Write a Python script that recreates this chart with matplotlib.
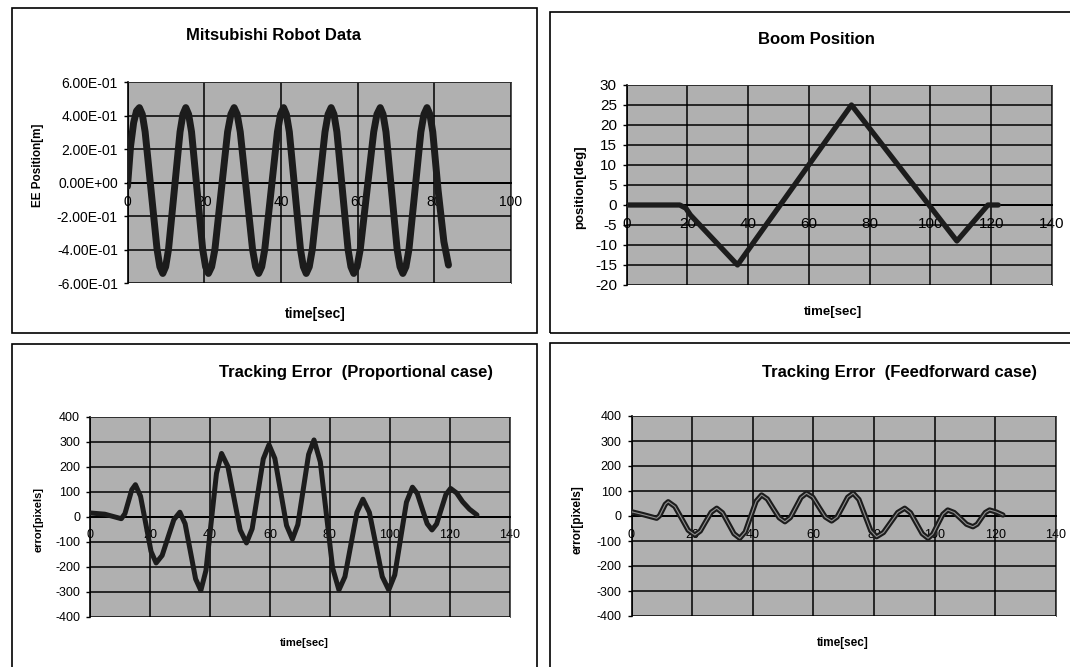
import matplotlib
matplotlib.use("Agg")
import matplotlib.pyplot as plt
from matplotlib.patches import Rectangle

# ---------------- data ----------------
# Panel 1: Mitsubishi Robot Data
robot_t = [0, 0.8, 1.6, 2.35, 3.1,
           3.86, 4.6, 6.15, 7.7, 8.44, 9.2,
           9.95, 10.7, 12.2, 13.7, 14.45, 15.2,
           15.94, 16.7, 18.15, 19.6, 20.36, 21.1,
           21.94, 22.8, 24.45, 26.1, 26.96, 27.8,
           28.6, 29.4, 31.0, 32.6, 33.4, 34.2,
           35.0, 35.8, 37.45, 39.1, 39.9, 40.7,
           41.44, 42.2, 43.65, 45.1, 45.86, 46.6,
           47.4, 48.2, 49.85, 51.5, 52.3, 53.1,
           53.84, 54.6, 56.05, 57.5, 58.26, 59.0,
           59.86, 60.7, 62.45, 64.2, 65.04, 65.9,
           66.64, 67.4, 68.85, 70.3, 71.06, 71.8,
           72.6, 73.4, 74.95, 76.5, 77.3, 78.1,
           78.85, 79.6, 81.0, 82.5, 83.7]
robot_pos = [-0.02, 0.22, 0.36, 0.43, 0.45,
             0.41, 0.305, -0.045, -0.395, -0.50, -0.54,
             -0.50, -0.395, -0.045, 0.305, 0.41, 0.45,
             0.41, 0.305, -0.045, -0.395, -0.50, -0.54,
             -0.50, -0.395, -0.045, 0.305, 0.41, 0.45,
             0.41, 0.305, -0.045, -0.395, -0.50, -0.54,
             -0.50, -0.395, -0.045, 0.305, 0.41, 0.45,
             0.41, 0.305, -0.045, -0.395, -0.50, -0.54,
             -0.50, -0.395, -0.045, 0.305, 0.41, 0.45,
             0.41, 0.305, -0.045, -0.395, -0.50, -0.54,
             -0.50, -0.395, -0.045, 0.305, 0.41, 0.45,
             0.41, 0.305, -0.045, -0.395, -0.50, -0.54,
             -0.50, -0.395, -0.045, 0.305, 0.41, 0.45,
             0.41, 0.305, -0.045, -0.35, -0.49]

# Panel 2: Boom Position
boom_t = [0, 10, 17.5, 19.5, 21, 36.5, 74, 108.7, 118.9, 122.3]
boom_pos = [0, 0, 0, -0.8, -2.5, -15, 25, -9, 0, 0]

# Panel 3: Tracking Error (Proportional case)
prop_t = [0, 5, 10.5, 11.7, 12.85, 14.0, 15.2,
          16.9, 18.65, 20.4, 22.1,
          24.1, 26.05, 28.0, 30.0,
          31.75, 33.5, 35.25, 37.0,
          38.7, 40.45, 42.2, 43.9,
          46.0, 48.05, 50.1, 52.2,
          54.1, 55.95, 57.8, 59.7,
          61.65, 63.6, 65.55, 67.5,
          69.3, 71.1, 72.9, 74.7,
          76.8, 78.85, 80.9, 83.0,
          85.0, 87.0, 89.0, 91.0,
          93.15, 95.3, 97.45, 99.6,
          101.6, 103.55, 105.5, 107.5,
          109.1, 110.75, 112.4, 114.0,
          115.55, 117.1, 118.65, 120.2,
          122.2, 124.2, 126.5, 129.0]
prop_err = [15, 10, -8, 12, 60, 108, 128,
            82, -28, -139, -185,
            -155, -83, -12, 18,
            -28, -138, -249, -295,
            -215, -21, 173, 253,
            201, 74, -53, -105,
            -48, 91, 231, 288,
            233, 99, -35, -90,
            -32, 108, 249, 307,
            219, 7, -205, -293,
            -240, -111, 17, 70,
            17, -111, -240, -293,
            -233, -87, 58, 118,
            93, 32, -28, -53,
            -29, 30, 89, 113,
            95, 60, 30, 7]

# Panel 4: Tracking Error (Feedforward case)
ff_t = [0, 4, 8.3, 9.25, 10.2, 11.15, 12.1,
        14.3, 16.5, 18.7, 20.9,
        22.7, 24.5, 26.3, 28.1,
        30.0, 31.9, 33.8, 35.7,
        37.5, 39.3, 41.1, 42.9,
        44.8, 46.75, 48.7, 50.6,
        52.4, 54.15, 55.9, 57.7,
        59.8, 61.85, 63.9, 66.0,
        67.8, 69.55, 71.3, 73.1,
        75.0, 76.95, 78.9, 80.8,
        83.1, 85.45, 87.8, 90.1,
        92.0, 93.95, 95.9, 97.8,
        99.4, 101.05, 102.7, 104.3,
        106.4, 108.45, 110.5, 112.6,
        114.0, 115.35, 116.7, 118.1,
        120.3, 122.5]
ff_err = [17, 5, -9, 1, 24, 47, 57,
          38, -9, -57, -76,
          -60, -22, 15, 31,
          13, -29, -71, -89,
          -64, -2, 59, 84,
          68, 30, -7, -23,
          -6, 34, 74, 91,
          75, 35, -4, -20,
          -4, 35, 75, 91,
          66, 4, -58, -83,
          -66, -26, 14, 31,
          13, -29, -71, -89,
          -72, -32, 7, 24,
          14, -9, -33, -43,
          -33, -9, 14, 24,
          16, 4]

# axis ticks / labels
robot_yticks = [-0.6, -0.4, -0.2, 0.0, 0.2, 0.4, 0.6]
robot_ylabels = ["-6.00E-01", "-4.00E-01", "-2.00E-01", "0.00E+00",
                 "2.00E-01", "4.00E-01", "6.00E-01"]
robot_xticks = [0, 20, 40, 60, 80, 100]
boom_yticks = [-20, -15, -10, -5, 0, 5, 10, 15, 20, 25, 30]
err_yticks = [-400, -300, -200, -100, 0, 100, 200, 300, 400]
long_xticks = [0, 20, 40, 60, 80, 100, 120, 140]

titles = ["Mitsubishi Robot Data", "Boom Position",
          "Tracking Error  (Proportional case)", "Tracking Error  (Feedforward case)"]
ylabels = ["EE Position[m]", "position[deg]", "error[pixels]", "error[pixels]"]
xlabel = "time[sec]"

# ---------------- figure ----------------
W, H = 1070, 667
FONT = "Liberation Sans"
plt.rcParams["font.family"] = [FONT, "DejaVu Sans"]
plt.rcParams["axes.unicode_minus"] = False
fig = plt.figure(figsize=(W / 100, H / 100), dpi=100)
fig.patch.set_facecolor("white")

BG = "#b0b0b0"
LINE = "#1c1c1c"


def px_rect(l, r, t, b):
    return [l / W, 1 - b / H, (r - l) / W, (b - t) / H]


def style_axes(ax, xticks, yticks, ylabels_txt=None, fs=10):
    ax.set_facecolor(BG)
    ax.set_xticks(xticks)
    ax.set_yticks(yticks)
    if ylabels_txt is not None:
        ax.set_yticklabels(ylabels_txt)
    ax.set_xlim(xticks[0], xticks[-1])
    ax.set_ylim(yticks[0], yticks[-1])
    ax.grid(True, color="black", linewidth=1.1)
    ax.set_axisbelow(True)
    ax.spines["bottom"].set_position(("data", 0))
    ax.spines["bottom"].set_linewidth(1.4)
    ax.spines["left"].set_linewidth(1.2)
    for s in ("top", "right"):
        ax.spines[s].set_linewidth(0.6)
        ax.spines[s].set_color("#333333")
    ax.tick_params(axis="x", length=0, pad=9, labelsize=fs)
    ax.tick_params(axis="y", length=3, width=1, pad=4, labelsize=fs)
    for lab in ax.get_xticklabels() + ax.get_yticklabels():
        lab.set_family([FONT, "DejaVu Sans"])


def ftext(x, y, s, **kw):
    fig.text(x / W, 1 - y / H, s, ha="center", va="center",
             family=[FONT, "DejaVu Sans"], **kw)


# panel frames
for (l, t, r, b) in [(12, 8, 537, 333), (550, 12, 1075, 333),
                     (12, 344, 537, 672), (550, 343, 1075, 672)]:
    fig.patches.append(Rectangle((l / W, 1 - b / H), (r - l) / W, (b - t) / H,
                                 transform=fig.transFigure, fill=False,
                                 edgecolor="black", linewidth=1.2))

# Panel 1
ax1 = fig.add_axes(px_rect(127.5, 511, 82.5, 283.5))
style_axes(ax1, robot_xticks, robot_yticks, robot_ylabels)
ax1.plot(robot_t, robot_pos, color=LINE, linewidth=5, solid_joinstyle="round",
         solid_capstyle="round", zorder=3)
ftext(274, 35, titles[0], fontsize=12, fontweight="bold")
ftext(38, 165, ylabels[0], fontsize=8.5, fontweight="bold", rotation=90)
ftext(315, 314, xlabel, fontsize=10, fontweight="bold")

# Panel 2
ax2 = fig.add_axes(px_rect(626.6, 1052, 85, 285))
style_axes(ax2, long_xticks, boom_yticks, fs=11)
ax2.plot(boom_t, boom_pos, color=LINE, linewidth=3.8, solid_joinstyle="round",
         solid_capstyle="round", zorder=3)
ftext(816, 40, titles[1], fontsize=12, fontweight="bold")
ftext(580, 187, ylabels[1], fontsize=9.5, fontweight="bold", rotation=90)
ftext(833, 312, xlabel, fontsize=9.5, fontweight="bold")

# Panel 3
ax3 = fig.add_axes(px_rect(89.8, 510, 416.7, 616.7))
style_axes(ax3, long_xticks, err_yticks, fs=9)
ax3.plot(prop_t, prop_err, color=LINE, linewidth=3.6, solid_joinstyle="round",
         solid_capstyle="round", zorder=3)
ftext(356, 372, titles[2], fontsize=12, fontweight="bold")
ftext(39, 520, ylabels[2], fontsize=8, fontweight="bold", rotation=90)
ftext(304, 643, xlabel, fontsize=8, fontweight="bold")

# Panel 4
ax4 = fig.add_axes(px_rect(631.5, 1056, 416, 616))
style_axes(ax4, long_xticks, err_yticks, fs=9)
ax4.plot(ff_t, ff_err, color=LINE, linewidth=3.8, solid_joinstyle="round",
         solid_capstyle="round", zorder=3)
ax4.plot(ff_t, ff_err, color="#8f8f8f", linewidth=0.8, zorder=3)
ftext(900, 372, titles[3], fontsize=12, fontweight="bold")
ftext(578, 520, ylabels[3], fontsize=8.5, fontweight="bold", rotation=90)
ftext(843, 643, xlabel, fontsize=8.5, fontweight="bold")

fig.savefig("out.png", dpi=100, facecolor="white")
